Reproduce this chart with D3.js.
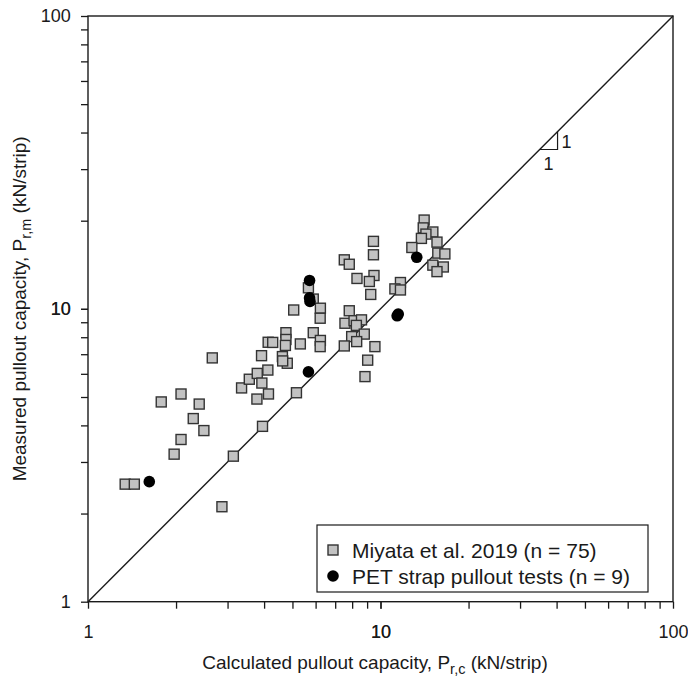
<!DOCTYPE html>
<html>
<head>
<meta charset="utf-8">
<script src="https://cdn.jsdelivr.net/npm/d3@7"></script>
<style>
  body { margin: 0; background: #fff; }
  text { font-family: "Liberation Sans", Arial, sans-serif; fill: #1a1a1a; }
</style>
</head>
<body>
<div id="chart"></div>
<script>
// Miyata et al. 2019 points (calculated, measured) kN/strip
const miyataCalc = [1.34, 1.44, 1.78, 2.08, 2.40, 2.29, 2.49, 2.08, 1.97, 2.66, 2.87, 3.14, 3.95,
  3.35, 3.56, 3.79, 4.12, 3.93, 3.78, 4.14, 5.16, 3.92, 4.13, 4.28, 4.75, 4.75, 4.73, 5.32, 4.62,
  4.80, 5.05, 5.67, 5.89, 6.23, 6.22, 5.89, 6.23, 6.22, 7.52, 7.82, 9.46, 9.46, 8.31, 9.50, 9.16,
  9.26, 7.82, 7.56, 8.12, 8.61, 8.27, 8.80, 7.97, 8.29, 7.52, 9.57, 9.04, 8.85, 14.1, 14.0, 15.1,
  14.3, 13.8, 15.6, 12.8, 15.7, 16.6, 15.1, 16.4, 15.6, 11.7, 11.2, 11.7, 4.63];
const miyataMeas = [2.52, 2.52, 4.81, 5.12, 4.73, 4.22, 3.84, 3.58, 3.19, 6.80, 2.11, 3.14, 3.97,
  5.37, 5.75, 6.02, 6.18, 5.58, 4.92, 5.12, 5.17, 6.92, 7.69, 7.68, 8.29, 7.86, 7.50, 7.59, 6.87,
  6.52, 9.91, 11.8, 10.8, 10.05, 9.29, 8.29, 7.80, 7.43, 14.7, 14.2, 17.0, 15.3, 12.7, 13.0, 12.4,
  11.2, 9.85, 8.93, 9.11, 9.17, 8.78, 8.20, 8.04, 7.73, 7.47, 7.43, 6.68, 5.87, 20.1, 18.9, 18.3,
  18.0, 17.4, 16.9, 16.2, 15.5, 15.4, 14.1, 13.9, 13.4, 12.3, 11.7, 11.6, 6.64];

// PET strap pullout tests
const petCalc = [1.62, 5.72, 5.72, 5.74, 5.67, 11.4, 11.5, 13.3];
const petMeas = [2.57, 12.5, 10.9, 10.6, 6.09, 9.47, 9.60, 15.0];

const tickValues = [1, 10, 100];
const legendLabels = ["Miyata et al. 2019 (n = 75)", "PET strap pullout tests (n = 9)"];

const width = 688, height = 684;
const margin = { top: 16, right: 15, bottom: 83, left: 88 };

const svg = d3.select("#chart").append("svg")
  .attr("width", width).attr("height", height);

const x = d3.scaleLog().domain([1, 100]).range([margin.left, width - margin.right]);
const y = d3.scaleLog().domain([1, 100]).range([height - margin.bottom + 0.7, margin.top]);

const minor = [];
for (let d = 1; d < 100; d *= 10) for (let k = 1; k <= 10; k++) minor.push(d * k);

// axes: outward ticks, left and bottom
const xAxis = d3.axisBottom(x).tickValues(minor).tickSize(7)
  .tickFormat(d => tickValues.includes(d) ? d : "");
const yAxis = d3.axisLeft(y).tickValues(minor).tickSize(7)
  .tickFormat(d => tickValues.includes(d) ? d : "");

const gx = svg.append("g").attr("transform", `translate(0,${y(1)})`).call(xAxis);
const gy = svg.append("g").attr("transform", `translate(${x(1)},0)`).call(yAxis);
[gx, gy].forEach(g => {
  g.select(".domain").remove();
  g.selectAll("line").attr("stroke", "#1a1a1a").attr("stroke-width", 1.3);
  g.selectAll("text").style("font-size", "18px").style("fill", "#1a1a1a")
    .style("font-family", "'Liberation Sans', Arial, sans-serif");
});
gx.selectAll("text").attr("dy", "1.45em");
gy.selectAll("text").attr("dx", "-0.4em");

// frame
svg.append("rect")
  .attr("x", x(1)).attr("y", y(100))
  .attr("width", x(100) - x(1)).attr("height", y(1) - y(100))
  .attr("fill", "none").attr("stroke", "#1a1a1a").attr("stroke-width", 1.4);

// 1:1 line
svg.append("line")
  .attr("x1", x(1)).attr("y1", y(1)).attr("x2", x(100)).attr("y2", y(100))
  .attr("stroke", "#1a1a1a").attr("stroke-width", 1.4);

// slope triangle
const t0 = 35, t1 = 40.3;
svg.append("path")
  .attr("d", `M${x(t0)},${y(t0)}H${x(t1)}V${y(t1)}`)
  .attr("fill", "none").attr("stroke", "#1a1a1a").attr("stroke-width", 1.2);
svg.append("text").attr("x", x(t1) + 4).attr("y", (y(t0) + y(t1)) / 2 + 7)
  .style("font-size", "18px").text("1");
svg.append("text").attr("x", (x(t0) + x(t1)) / 2).attr("y", y(t0) + 20)
  .attr("text-anchor", "middle").style("font-size", "18px").text("1");

// points
const sq = 10;
svg.append("g").selectAll("rect")
  .data(d3.range(miyataCalc.length))
  .join("rect")
  .attr("x", i => x(miyataCalc[i]) - sq / 2)
  .attr("y", i => y(miyataMeas[i]) - sq / 2)
  .attr("width", sq).attr("height", sq)
  .attr("fill", "#c2c2c2").attr("stroke", "#333").attr("stroke-width", 1.4);

svg.append("g").selectAll("circle")
  .data(d3.range(petCalc.length))
  .join("circle")
  .attr("cx", i => x(petCalc[i]))
  .attr("cy", i => y(petMeas[i]))
  .attr("r", 5.8)
  .attr("fill", "#000");

// legend
const lg = svg.append("g");
lg.append("rect").attr("x", 317).attr("y", 525).attr("width", 331).attr("height", 67)
  .attr("fill", "#fff").attr("stroke", "#1a1a1a").attr("stroke-width", 1.2);
lg.append("rect").attr("x", 328).attr("y", 545).attr("width", sq).attr("height", sq)
  .attr("fill", "#c2c2c2").attr("stroke", "#333").attr("stroke-width", 1.4);
lg.append("circle").attr("cx", 333).attr("cy", 576).attr("r", 5.8).attr("fill", "#000");
lg.selectAll("text.leg").data(legendLabels).join("text")
  .attr("class", "leg")
  .attr("x", 352).attr("y", (d, i) => 557.5 + i * 26)
  .style("font-size", "21px").text(d => d);

// axis titles
const xt = svg.append("text")
  .attr("x", 375).attr("y", 669)
  .attr("text-anchor", "middle").style("font-size", "19px");
xt.append("tspan").text("Calculated pullout capacity, P");
xt.append("tspan").attr("dy", 5).style("font-size", "14.5px").text("r,c");
xt.append("tspan").attr("dy", -5).text(" (kN/strip)");

const yt = svg.append("text")
  .attr("transform", `translate(26,${(y(1) + y(100)) / 2}) rotate(-90)`)
  .attr("text-anchor", "middle").style("font-size", "19px");
yt.append("tspan").text("Measured pullout capacity, P");
yt.append("tspan").attr("dy", 5).style("font-size", "14.5px").text("r,m");
yt.append("tspan").attr("dy", -5).text(" (kN/strip)");
</script>
</body>
</html>
